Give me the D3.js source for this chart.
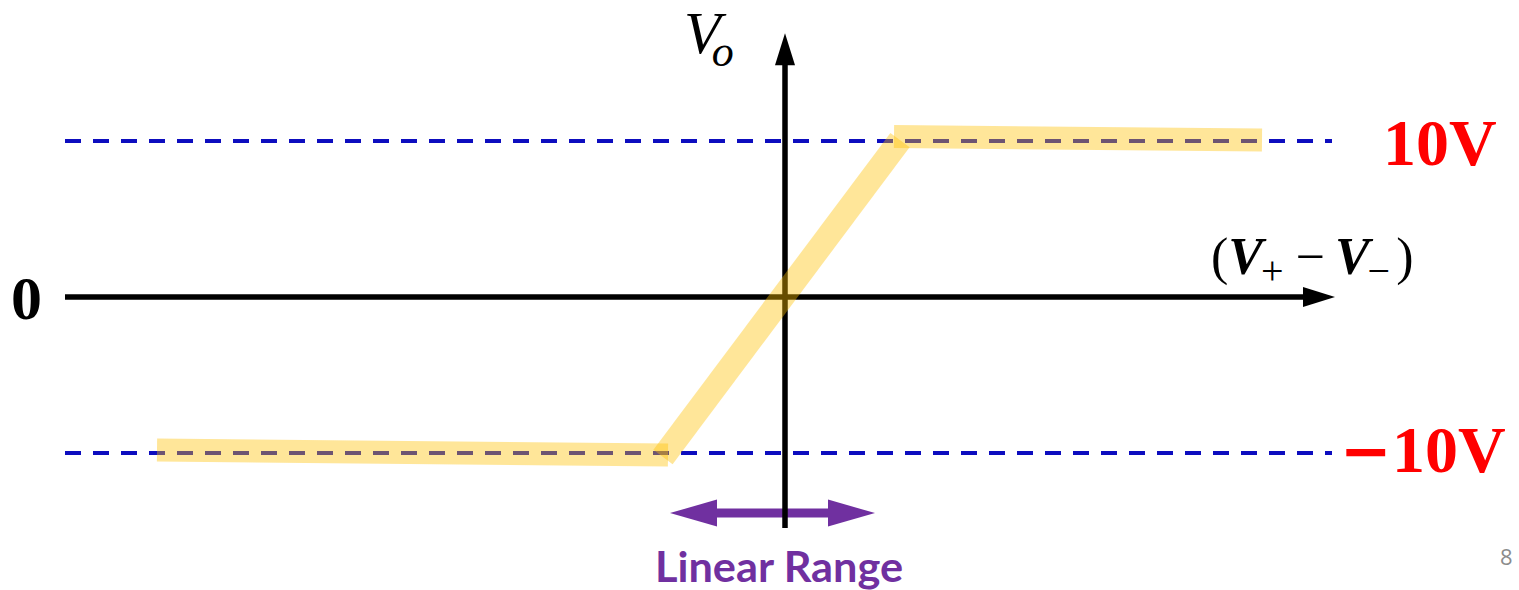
<!DOCTYPE html>
<html>
<head>
<meta charset="utf-8">
<script src="https://cdn.jsdelivr.net/npm/d3@7"></script>
<style>
  html, body { margin: 0; padding: 0; background: #fff; }
  svg { display: block; }
</style>
</head>
<body>
<svg id="chart" width="1519" height="590"></svg>
<script>
// ---- data ----
const xDomain = [-7.2, 5.5];          // input (V+ - V-) axis, arbitrary units
const yDomain = [-10, 10];            // output voltage Vo (V)
const saturationLevels = [10, -10];   // dashed rails
const railLabels = ["10V", "10V"];
const zeroLabel = "0";
const lowerSat = [[-6.28, -9.81], [-1.17, -10.13]];
const linearPart = [[-1.22, -10.26], [1.15, 10.06]];
const upperSat = [[1.09, 10.29], [4.77, 10.06]];
const linearRange = [-1.15, 0.9];
const linearRangeLevel = -13.85;
const yAxisExtent = [-14.8, 16.9];
const xAxisEnd = 5.5;
const railEnd = 5.47;
const pageNumber = "8";

// ---- scales ----
const x = d3.scaleLinear().domain(xDomain).range([65, 1335]);
const y = d3.scaleLinear().domain(yDomain).range([453, 141]);

const svg = d3.select("#chart");

// dashed rails
svg.selectAll("line.rail").data(saturationLevels).join("line")
  .attr("class", "rail")
  .attr("x1", x(xDomain[0])).attr("x2", x(railEnd))
  .attr("y1", d => y(d)).attr("y2", d => y(d))
  .attr("stroke", "#0D0DBF").attr("stroke-width", 4)
  .attr("stroke-dasharray", "16 12");

// linear range arrow (purple)
const purple = "#7030A0";
const lrY = y(linearRangeLevel);
const lx0 = x(linearRange[0]), lx1 = x(linearRange[1]);
const headL = 47, headW = 27;
svg.append("line")
  .attr("x1", lx0 + headL - 2).attr("x2", lx1 - headL + 2)
  .attr("y1", lrY).attr("y2", lrY)
  .attr("stroke", purple).attr("stroke-width", 9);
svg.append("path")
  .attr("d", `M${lx0},${lrY} L${lx0 + headL},${lrY - headW/2} L${lx0 + headL},${lrY + headW/2} Z`)
  .attr("fill", purple);
svg.append("path")
  .attr("d", `M${lx1},${lrY} L${lx1 - headL},${lrY - headW/2} L${lx1 - headL},${lrY + headW/2} Z`)
  .attr("fill", purple);

// axes
const ax0 = x(0), ay0 = y(0);
const aHeadL = 32, aHeadW = 20;
svg.append("line")
  .attr("x1", x(xDomain[0])).attr("x2", x(xAxisEnd) - aHeadL + 2)
  .attr("y1", ay0).attr("y2", ay0)
  .attr("stroke", "#000").attr("stroke-width", 5.5);
svg.append("path")
  .attr("d", `M${x(xAxisEnd)},${ay0} L${x(xAxisEnd) - aHeadL},${ay0 - aHeadW/2} L${x(xAxisEnd) - aHeadL},${ay0 + aHeadW/2} Z`)
  .attr("fill", "#000");
const yTop = y(yAxisExtent[1]), yBot = y(yAxisExtent[0]);
svg.append("line")
  .attr("x1", ax0).attr("x2", ax0)
  .attr("y1", yBot).attr("y2", yTop + aHeadL - 2)
  .attr("stroke", "#000").attr("stroke-width", 5.5);
svg.append("path")
  .attr("d", `M${ax0},${yTop} L${ax0 - aHeadW/2},${yTop + aHeadL} L${ax0 + aHeadW/2},${yTop + aHeadL} Z`)
  .attr("fill", "#000");

// transfer characteristic (semi-transparent highlighter band)
const line = d3.line().x(d => x(d[0])).y(d => y(d[1]));
const bands = [
  { pts: lowerSat, w: 23 },
  { pts: linearPart, w: 24 },
  { pts: upperSat, w: 23 }
];
svg.selectAll("path.band").data(bands).join("path")
  .attr("class", "band")
  .attr("d", d => line(d.pts))
  .attr("fill", "none")
  .attr("stroke", "#FFC000")
  .attr("stroke-opacity", 0.4)
  .attr("stroke-width", d => d.w)
  .attr("stroke-linecap", "butt");

// ---- labels ----
const serif = "'Liberation Serif', 'Times New Roman', serif";
svg.append("text")
  .attr("x", 1383).attr("y", y(saturationLevels[0]) + 24)
  .attr("font-family", serif).attr("font-weight", "bold")
  .attr("font-size", 66).attr("fill", "#FF0000")
  .text(railLabels[0]);
const neg = svg.append("text")
  .attr("x", 1340).attr("y", y(saturationLevels[1]) + 19)
  .attr("font-family", serif).attr("font-weight", "bold")
  .attr("font-size", 66).attr("fill", "#FF0000");
neg.append("tspan").attr("font-family", "'DejaVu Sans', sans-serif").attr("font-size", 62)
  .text("\u2212");
neg.append("tspan").attr("dx", 0).text(railLabels[1]);

svg.append("text")
  .attr("x", 11).attr("y", ay0 + 22)
  .attr("font-family", serif).attr("font-weight", "bold")
  .attr("font-size", 62).attr("fill", "#000")
  .text(zeroLabel);

// Vo label
const vo = svg.append("text")
  .attr("x", 684).attr("y", 53)
  .attr("font-family", serif).attr("font-style", "italic")
  .attr("font-size", 60).attr("fill", "#000");
vo.append("tspan").text("V");
vo.append("tspan").attr("dx", -9).attr("dy", 13).attr("font-size", 44).text("o");

// (V+ - V-) label
const xl = svg.append("text")
  .attr("x", 1211).attr("y", 274)
  .attr("font-family", serif).attr("font-size", 52).attr("fill", "#000");
xl.append("tspan").text("(");
xl.append("tspan").attr("font-weight", "bold").attr("font-style", "italic").text("V");
xl.append("tspan").attr("dy", 10).attr("dx", -2).attr("font-size", 40).text("+");
xl.append("tspan").attr("dy", -10).attr("dx", 12).text("\u2212");
xl.append("tspan").attr("dx", 10).attr("font-weight", "bold").attr("font-style", "italic").text("V");
xl.append("tspan").attr("dy", 10).attr("dx", -2).attr("font-size", 40).text("\u2212");
xl.append("tspan").attr("dy", -10).attr("dx", 6).text(")");

// Linear Range label
svg.append("text")
  .attr("x", 655).attr("y", 582)
  .attr("font-family", "Lato, 'Open Sans', sans-serif").attr("font-weight", "bold")
  .attr("font-size", 42).attr("fill", purple)
  .attr("textLength", 248).attr("lengthAdjust", "spacingAndGlyphs")
  .text("Linear Range");

// page number
svg.append("text")
  .attr("x", 1500).attr("y", 565)
  .attr("font-family", "'Open Sans', sans-serif")
  .attr("font-size", 22).attr("fill", "#8C8C8C")
  .text(pageNumber);
</script>
</body>
</html>
